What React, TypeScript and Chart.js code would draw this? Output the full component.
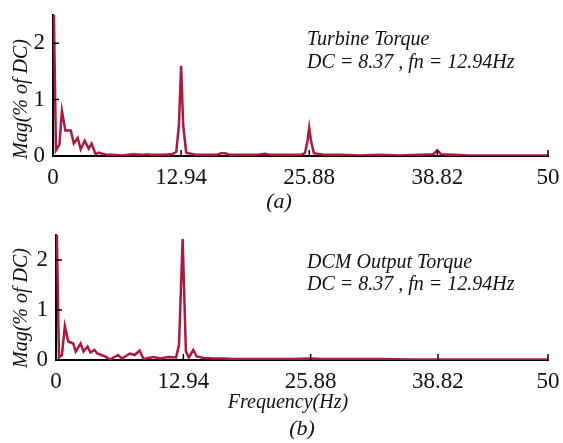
import React, { useEffect, useRef } from "react";
import { Chart, registerables } from "chart.js";

Chart.register(...registerables);

// ---- Data ----
const xTickValues = [0, 12.94, 25.88, 38.82, 50];
const yTickValues = [0, 1, 2];

const freqA = [0, 0.3, 0.65, 0.9, 1.25, 1.8, 2.1, 2.5, 2.8, 3.2, 3.6, 3.9, 4.3, 4.6, 5.0, 5.5, 6.0, 7.0, 8.0, 9.0, 9.5, 10.0, 11.0, 12.0, 12.45, 12.72, 12.94, 13.15, 13.45, 14.5, 15.5, 16.5, 17.0, 17.4, 17.8, 19.0, 20.5, 21.4, 22.0, 23.5, 25.0, 25.45, 25.72, 25.88, 26.05, 26.35, 27.5, 29.0, 31.0, 33.0, 35.0, 37.0, 38.4, 38.82, 39.2, 40.5, 42.0, 44.0, 46.0, 48.0, 50.0];
const magA = [3.5, 0.1, 0.2, 0.8, 0.45, 0.45, 0.22, 0.32, 0.12, 0.27, 0.13, 0.22, 0.03, 0.06, 0.04, 0.02, 0.02, 0.01, 0.03, 0.02, 0.03, 0.02, 0.02, 0.03, 0.07, 0.55, 1.6, 0.55, 0.06, 0.02, 0.02, 0.02, 0.05, 0.05, 0.02, 0.02, 0.02, 0.04, 0.02, 0.02, 0.02, 0.05, 0.28, 0.5, 0.28, 0.05, 0.02, 0.02, 0.01, 0.02, 0.01, 0.02, 0.03, 0.1, 0.03, 0.02, 0.01, 0.01, 0.01, 0.01, 0.01];

const freqB = [0, 0.3, 0.6, 0.9, 1.25, 1.75, 2.0, 2.5, 2.8, 3.2, 3.5, 3.9, 4.2, 4.6, 5.0, 5.5, 6.3, 6.7, 7.5, 8.0, 8.5, 8.9, 9.9, 10.6, 11.4, 12.2, 12.5, 12.87, 13.2, 13.5, 13.95, 14.3, 15.0, 16.0, 17.0, 18.0, 20.0, 22.0, 24.0, 25.88, 27.0, 30.0, 33.0, 36.0, 40.0, 45.0, 50.0];
const magB = [3.5, 0.05, 0.1, 0.68, 0.37, 0.33, 0.17, 0.33, 0.17, 0.27, 0.15, 0.2, 0.13, 0.1, 0.07, 0.01, 0.1, 0.03, 0.13, 0.1, 0.19, 0.02, 0.06, 0.03, 0.06, 0.05, 0.3, 2.42, 0.17, 0.05, 0.2, 0.07, 0.04, 0.03, 0.03, 0.02, 0.02, 0.02, 0.02, 0.03, 0.02, 0.02, 0.02, 0.01, 0.01, 0.01, 0.01];

const titleA = ["Turbine Torque", "DC = 8.37 , fn = 12.94Hz"];
const titleB = ["DCM Output Torque", "DC = 8.37 , fn = 12.94Hz"];
const yAxisTitle = "Mag(% of DC)";
const xAxisTitle = "Frequency(Hz)";

const LINE_COLOR = "#b0173c";
const SERIF = "'Liberation Serif', 'Times New Roman', serif";

type TextItem = { text: string; x: number; y: number; size: number; italic: boolean; align: CanvasTextAlign; rotate?: boolean };

function makeConfig(
  freq: number[],
  mag: number[],
  area: { left: number; right: number; top: number; bottom: number },
  canvasH: number,
  canvasW: number,
  texts: TextItem[]
): any {
  const textPlugin = {
    id: "texts",
    afterDraw(chart: any) {
      const ctx = chart.ctx as CanvasRenderingContext2D;
      const xs = chart.scales.x;
      const ys = chart.scales.y;
      const ca = chart.chartArea;
      ctx.save();
      // inward ticks
      ctx.strokeStyle = "#000";
      ctx.lineWidth = 1.5;
      ctx.beginPath();
      for (const v of xTickValues) {
        const px = xs.getPixelForValue(v);
        ctx.moveTo(px, ca.bottom);
        ctx.lineTo(px, ca.bottom - 6);
      }
      for (const v of yTickValues) {
        const py = ys.getPixelForValue(v);
        ctx.moveTo(ca.left, py);
        ctx.lineTo(ca.left + 6, py);
      }
      ctx.stroke();
      // texts
      ctx.fillStyle = "#111";
      ctx.textBaseline = "alphabetic";
      for (const t of texts) {
        ctx.font = `${t.italic ? "italic " : ""}${t.size}px ${SERIF}`;
        ctx.textAlign = t.align;
        if (t.rotate) {
          ctx.save();
          ctx.translate(t.x, t.y);
          ctx.rotate(-Math.PI / 2);
          ctx.fillText(t.text, 0, 0);
          ctx.restore();
        } else {
          ctx.fillText(t.text, t.x, t.y);
        }
      }
      ctx.restore();
    },
  };

  return {
    type: "line",
    data: {
      datasets: [
        {
          data: freq.map((f, i) => ({ x: f, y: mag[i] })),
          borderColor: LINE_COLOR,
          borderWidth: 2.5,
          pointRadius: 0,
          tension: 0,
          fill: false,
        },
      ],
    },
    options: {
      animation: false,
      responsive: false,
      layout: { padding: { left: 0, top: area.top, right: canvasW - area.right, bottom: 0 } },
      plugins: { legend: { display: false }, tooltip: { enabled: false }, title: { display: false } },
      scales: {
        x: {
          type: "linear",
          min: 0,
          max: 50,
          afterBuildTicks: (s: any) => {
            s.ticks = xTickValues.map((v) => ({ value: v }));
          },
          afterFit: (s: any) => {
            s.height = canvasH - area.bottom;
            s.paddingLeft = 0;
            s.paddingRight = 0;
          },
          grid: { display: false, drawTicks: false },
          border: { display: true, color: "#000", width: 2 },
          ticks: {
            autoSkip: false,
            maxRotation: 0,
            padding: 8,
            color: "#111",
            font: { family: SERIF, size: 23 },
            callback: (v: any) => String(v),
          },
        },
        y: {
          type: "linear",
          min: 0,
          max: 2.5,
          afterBuildTicks: (s: any) => {
            s.ticks = yTickValues.map((v) => ({ value: v }));
          },
          afterFit: (s: any) => {
            s.width = area.left;
            s.paddingTop = 0;
            s.paddingBottom = 0;
          },
          grid: { display: false, drawTicks: false },
          border: { display: true, color: "#000", width: 2 },
          ticks: {
            padding: 8,
            color: "#111",
            font: { family: SERIF, size: 23 },
            callback: (v: any) => String(v),
          },
        },
      },
    },
    plugins: [textPlugin],
  };
}

function Panel(props: { top: number; height: number; cfg: any }) {
  const ref = useRef<HTMLCanvasElement | null>(null);
  useEffect(() => {
    if (!ref.current) return;
    const chart = new Chart(ref.current, props.cfg);
    return () => chart.destroy();
  }, []);
  return (
    <canvas
      ref={ref}
      width={563}
      height={props.height}
      style={{ position: "absolute", left: 0, top: props.top, width: 563, height: props.height }}
    />
  );
}

export default function App() {
  const W = 563;
  const topH = 220;
  const botH = 223;
  const cfgA = makeConfig(
    freqA,
    magA,
    { left: 53, right: 548, top: 15, bottom: 156 },
    topH,
    W,
    [
      { text: titleA[0], x: 307, y: 45, size: 20, italic: true, align: "left" },
      { text: titleA[1], x: 307, y: 68, size: 20, italic: true, align: "left" },
      { text: yAxisTitle, x: 27, y: 99, size: 20, italic: true, align: "center", rotate: true },
      { text: "(a)", x: 279, y: 208, size: 22, italic: true, align: "center" },
    ]
  );
  const cfgB = makeConfig(
    freqB,
    magB,
    { left: 56, right: 548, top: 15, bottom: 140 },
    botH,
    W,
    [
      { text: titleB[0], x: 307, y: 48, size: 20, italic: true, align: "left" },
      { text: titleB[1], x: 307, y: 70, size: 20, italic: true, align: "left" },
      { text: yAxisTitle, x: 27, y: 88, size: 20, italic: true, align: "center", rotate: true },
      { text: xAxisTitle, x: 288, y: 188, size: 20, italic: true, align: "center" },
      { text: "(b)", x: 302, y: 215, size: 22, italic: true, align: "center" },
    ]
  );
  return (
    <div style={{ position: "fixed", left: 0, top: 0, width: W, height: topH + botH, background: "#fff" }}>
      <Panel top={0} height={topH} cfg={cfgA} />
      <Panel top={topH} height={botH} cfg={cfgB} />
    </div>
  );
}
